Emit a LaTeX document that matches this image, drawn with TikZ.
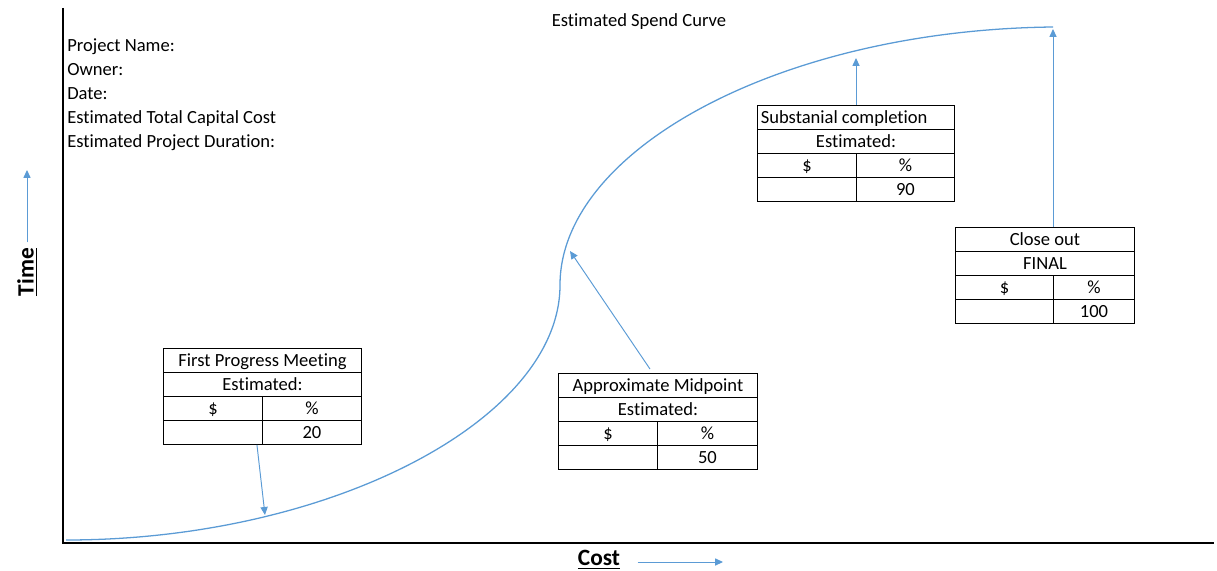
\documentclass[tikz,border=0pt]{standalone}
\usepackage{fontspec}
\setmainfont{Carlito}[Ligatures=NoCommon]
\usetikzlibrary{calc}
\usetikzlibrary{arrows.meta}
\definecolor{curveblue}{HTML}{5B9BD5}
\newcommand{\cellfont}{\fontsize{11.6}{14}\selectfont}
\newcommand{\leftcell}[1]{\makebox[119pt][l]{#1}}
% name, x, y, left column, right column, title format, title, second row, percent
\newcommand{\spendtable}[9]{%
 \node[cell, minimum width=(#4+#5)*0.625pt] (#1-head) at (#2,#3) {#6{#7}};
 \node[cell, minimum width=(#4+#5)*0.625pt] (#1-sub) at (#2,#3+24) {#8};
 \node[cell, minimum width=#4*0.625pt] (#1-dol) at (#2,#3+48) {\$};
 \node[cell, minimum width=#5*0.625pt] (#1-pct) at (#2+#4,#3+48) {\%};
 \node[cell, minimum width=#4*0.625pt] (#1-blank) at (#2,#3+72) {};
 \node[cell, minimum width=#5*0.625pt] (#1-val) at (#2+#4,#3+72) {#9};
}
\begin{document}
\begin{tikzpicture}[x=0.625pt, y=-0.625pt,
 cell/.style={draw, line width=0.6pt, anchor=north west, inner sep=0pt, minimum height=15pt,
  text height=9.2pt, text depth=1.2pt, font=\cellfont},
 axis/.style={black, line width=1pt},
 pointer/.style={curveblue, line width=0.6pt, -{Triangle[length=5pt,width=4.5pt]}},
 axislabel/.style={font=\fontsize{14.6}{17}\selectfont\bfseries}]
\useasboundingbox (0,0) rectangle (1217,571);
% axes
\draw[axis] (63,8) -- (63,543) -- (1214,543);
% title and project info
\node[font=\cellfont, anchor=base] (title) at (639,27) {Estimated Spend Curve};
\foreach \txt [count=\i] in {Project Name:, Owner:, Date:, Estimated Total Capital Cost, Estimated Project Duration:}
 \node[font=\cellfont, anchor=base west, inner sep=0pt] (info-\i) at (67,28+24*\i) {\txt};
% spend curve
\draw[curveblue, line width=0.8pt] (66,540) .. controls (330,540) and (560,420) .. (560,285)
 .. controls (560,150) and (780,30) .. (1053,27);
\coordinate (fpm-pt) at (265,515);
\coordinate (mid-pt) at (570,251);
\coordinate (sub-pt) at (856,58);
\coordinate (co-pt) at (1053,29);
% axis labels
\node[axislabel, rotate=90] (time) at (27,272) {\underline{Time}};
\coordinate (time-tip) at (27,170);
\draw[pointer] (time.east) -- (time-tip);
\node[axislabel] (cost) at (599,560) {\underline{Cost}};
\coordinate (cost-tip) at (723,562);
\draw[pointer] ($(cost.east)+(12,2)$) -- (cost-tip);
% tables
\spendtable{fpm}{163}{348}{99}{99}{\mbox}{First Progress Meeting}{Estimated:}{20}
\spendtable{mid}{558}{373}{99}{100}{\mbox}{Approximate Midpoint}{Estimated:}{50}
\spendtable{sub}{757}{105}{99}{98}{\leftcell}{Substanial completion}{Estimated:}{90}
\spendtable{co}{955}{227}{98}{81}{\mbox}{Close out}{FINAL}{100}
% pointers to the curve
\draw[pointer] ($(fpm-blank.south east)+(-6,0)$) -- (fpm-pt);
\draw[pointer] ($(mid-head.north)+(-8,-4)$) -- (mid-pt);
\draw[pointer] (sub-pct.north west |- sub-head.north) -- (sub-pt);
\draw[pointer] (co-pct.north west |- co-head.north) -- (co-pt);
\end{tikzpicture}
\end{document}
